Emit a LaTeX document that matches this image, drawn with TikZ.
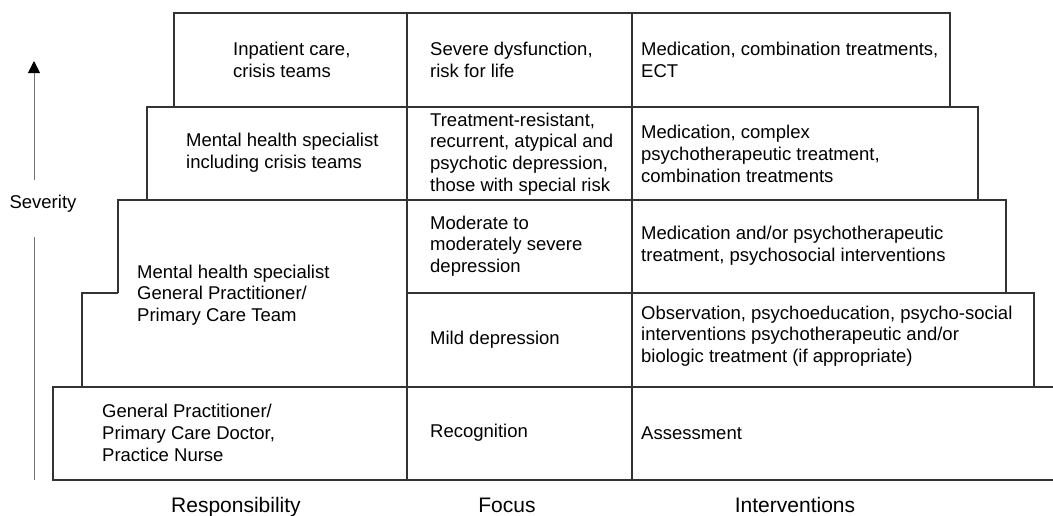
\documentclass[tikz,border=0pt]{standalone}
\usepackage{fontspec}
\setmainfont{Liberation Sans}
\usetikzlibrary{arrows.meta}

\begin{document}
\begin{tikzpicture}[x=1pt, y=-1pt]
\tikzstyle{every node}=[font=\fontsize{18.5}{21.7}\selectfont, text=black, inner sep=0pt]
\tikzstyle{cell}=[anchor=west, align=left]
\tikzstyle{tier}=[line width=1.2pt, draw=black!80]
\tikzstyle{axislabel}=[font=\fontsize{21}{24}\selectfont, anchor=base]
\tikzstyle{arrowline}=[line width=1pt, draw=black!55]
\useasboundingbox (0,0) rectangle (1053,515);

\draw[tier] (174,13) rectangle (950,107); % top tier
\draw[tier] (147,107) rectangle (978,200); % second tier
\draw[tier] (118,293) -- (118,200) -- (1006,200) -- (1006,293) -- (407,293); % moderate
\draw[tier] (118,293) -- (82,293) -- (82,387); % step
\draw[tier] (407,293) -- (1034,293) -- (1034,387); % mild
\draw[tier] (1060,387) -- (53,387) -- (53,480) -- (1060,480); % base tier
\draw[tier] (407,13) -- (407,480); % columns
\draw[tier] (632,13) -- (632,480);

% responsibility
\node[cell] (resp1) at (233,60) {Inpatient care,\\crisis teams};
\node[cell] (resp2) at (186,153) {Mental health specialist\\including crisis teams};
\node[cell] (resp3) at (137,295) {Mental health specialist\\General Practitioner/\\Primary Care Team};
\node[cell] (resp5) at (102,433) {General Practitioner/\\Primary Care Doctor,\\Practice Nurse};

% focus
\node[cell] (focus1) at (430,60) {Severe dysfunction,\\risk for life};
\node[cell] (focus2) at (430,154) {Treatment-resistant,\\recurrent, atypical and\\psychotic depression,\\those with special risk};
\node[cell] (focus3) at (430,246) {Moderate to\\moderately severe\\depression};
\node[cell] (focus4) at (430,340) {Mild depression};
\node[cell] (focus5) at (430,433) {Recognition};

% interventions
\node[cell] (int1) at (641,60) {Medication, combination treatments,\\ECT};
\node[cell] (int2) at (641,154) {Medication, complex\\psychotherapeutic treatment,\\combination treatments};
\node[cell] (int3) at (641,246) {Medication and/or psychotherapeutic\\treatment, psychosocial interventions};
\node[cell] (int4) at (641,336) {Observation, psychoeducation, psycho-social\\interventions psychotherapeutic and/or\\biologic treatment (if appropriate)};
\node[cell] (int5) at (641,433) {Assessment};

% column labels
\node[axislabel] (resp) at (236,512) {Responsibility};
\node[axislabel] (focus) at (507,512) {Focus};
\node[axislabel] (interv) at (795,512) {Interventions};

% severity axis
\coordinate (sevbot) at (34,480);
\coordinate (sevtop) at (34,61);
\node[anchor=base, text height=28pt, text depth=29pt] (sev) at (43,208) {Severity};
\draw[arrowline] (sevbot) -- (sevbot |- sev.south);
\draw[arrowline, -{Triangle[width=12pt, length=12pt, color=black]}] (sevbot |- sev.north) -- (sevtop);

\end{tikzpicture}
\end{document}
